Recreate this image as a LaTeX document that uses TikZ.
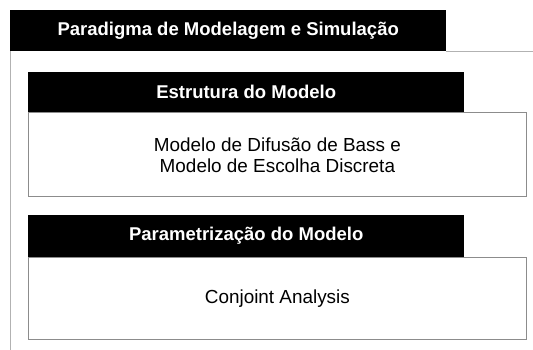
\documentclass[tikz,border=0pt]{standalone}
\usepackage{fontspec}
\setmainfont{Liberation Sans}
\usetikzlibrary{positioning}
\begin{document}
\begin{tikzpicture}[x=1pt,y=-1pt,
    header/.style={fill=black,text=white,inner sep=0pt,anchor=north west,
      font=\fontsize{18.5}{21}\selectfont\bfseries},
    content/.style={draw=black!45,line width=0.8pt,fill=white,inner sep=0pt,
      align=center,minimum width=498pt,anchor=north west,
      font=\fontsize{18.9}{21}\selectfont},
    frame/.style={draw=black!30,line width=0.8pt}]
  \useasboundingbox (0,0) rectangle (533,350);
  \node[header,minimum width=436pt,minimum height=41pt] (paradigma) at (10,10)
       {Paradigma de Modelagem e Simulação};
  \draw[frame] (paradigma.south east) -- ++(100,0);
  \draw[frame] (paradigma.south west) -- ++(0,320);
  \node[header,minimum width=436pt,minimum height=40pt] (estrutura) at (28,72)
       {Estrutura do Modelo};
  \node[content,minimum height=84pt] (estruturacorpo) at (estrutura.south west)
       {Modelo de Difusão de Bass e\\ Modelo de Escolha Discreta};
  \node[header,minimum width=436pt,minimum height=42pt] (parametrizacao) at (28,215)
       {Parametrização do Modelo};
  \node[content,minimum height=82pt] (parametrizacaocorpo) at (parametrizacao.south west)
       {Conjoint Analysis};
\end{tikzpicture}
\end{document}
